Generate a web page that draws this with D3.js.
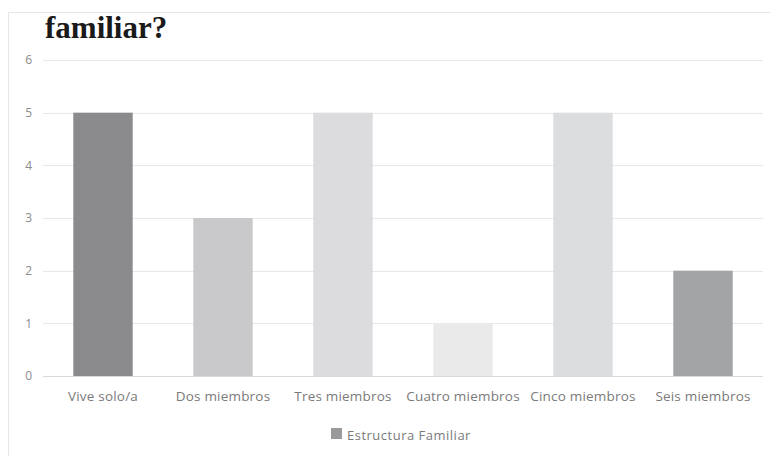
<!DOCTYPE html>
<html><head><meta charset="utf-8">
<script src="https://cdn.jsdelivr.net/npm/d3@7"></script>
<style>html,body{margin:0;padding:0;background:#fff;}svg{display:block;}</style>
</head><body>
<svg id="c" width="770" height="456"></svg>
<script>
const categories = ["Vive solo/a","Dos miembros","Tres miembros","Cuatro miembros","Cinco miembros","Seis miembros"];
const values = [5,3,5,1,5,2];
const barColors = ["#8b8b8d","#c9c9cb","#dcdcde","#e9eae9","#dcdddf","#a3a4a6"];
const yTicks = [0,1,2,3,4,5,6];
const seriesName = "Estructura Familiar";
const titleText = "familiar?";

const svg = d3.select("#c");
const margin = {left:43, right:7, top:60, bottom:80};
const W = 770, H = 456;
const x = d3.scaleBand().domain(categories).range([margin.left, W - margin.right]).paddingInner(0.505).paddingOuter(0.2525);
const y = d3.scaleLinear().domain([0,6]).range([376, 60]);
const lblFont = "Open Sans, sans-serif";

// frame
svg.append("path").attr("d","M8.5,456 V12.5 H770").attr("fill","none").attr("stroke","#e6e6e6").attr("stroke-width",1);

// title
svg.append("text").attr("x",45).attr("y",38).attr("font-family","Liberation Serif, Times New Roman, serif")
  .attr("font-weight","bold").attr("font-size",31).attr("fill","#1a1a1a").text(titleText);

// grid
svg.append("g").selectAll("line").data(yTicks).join("line")
  .attr("x1",margin.left).attr("x2",W - margin.right)
  .attr("y1",d=>Math.round(y(d))+0.5).attr("y2",d=>Math.round(y(d))+0.5)
  .attr("stroke",d=>d===0?"#d9d9d9":"#e8e8e8").attr("stroke-width",1);

// y axis labels
const yAxis = d3.axisLeft(y).tickValues(yTicks).tickFormat(d3.format("d")).tickSize(0).tickPadding(0);
const ga = svg.append("g").attr("transform","translate(32,0)").call(yAxis);
ga.select(".domain").remove();
ga.selectAll("text").attr("font-family",lblFont).attr("font-size",12).attr("fill","#8c8c8c");

// bars
svg.append("g").selectAll("rect").data(values).join("rect")
  .attr("x",(d,i)=>x(categories[i])).attr("width",x.bandwidth())
  .attr("y",d=>y(d)).attr("height",d=>y(0)-y(d))
  .attr("fill",(d,i)=>barColors[i]);

// x axis labels
const xAxis = d3.axisBottom(x).tickSize(0).tickPadding(0);
const gx = svg.append("g").attr("transform","translate(0,391)").call(xAxis);
gx.select(".domain").remove();
gx.selectAll("text").attr("font-family",lblFont).attr("font-size",13.5).attr("letter-spacing",0.2).attr("fill","#7a7a7a");

// legend
const lg = svg.append("g");
lg.append("rect").attr("x",331).attr("y",428).attr("width",11).attr("height",11).attr("fill","#9a9a9c");
lg.append("text").attr("x",347).attr("y",439.5).attr("font-family",lblFont).attr("font-size",13).attr("letter-spacing",0.5).attr("fill","#7a7a7a").text(seriesName);
</script>
</body></html>
